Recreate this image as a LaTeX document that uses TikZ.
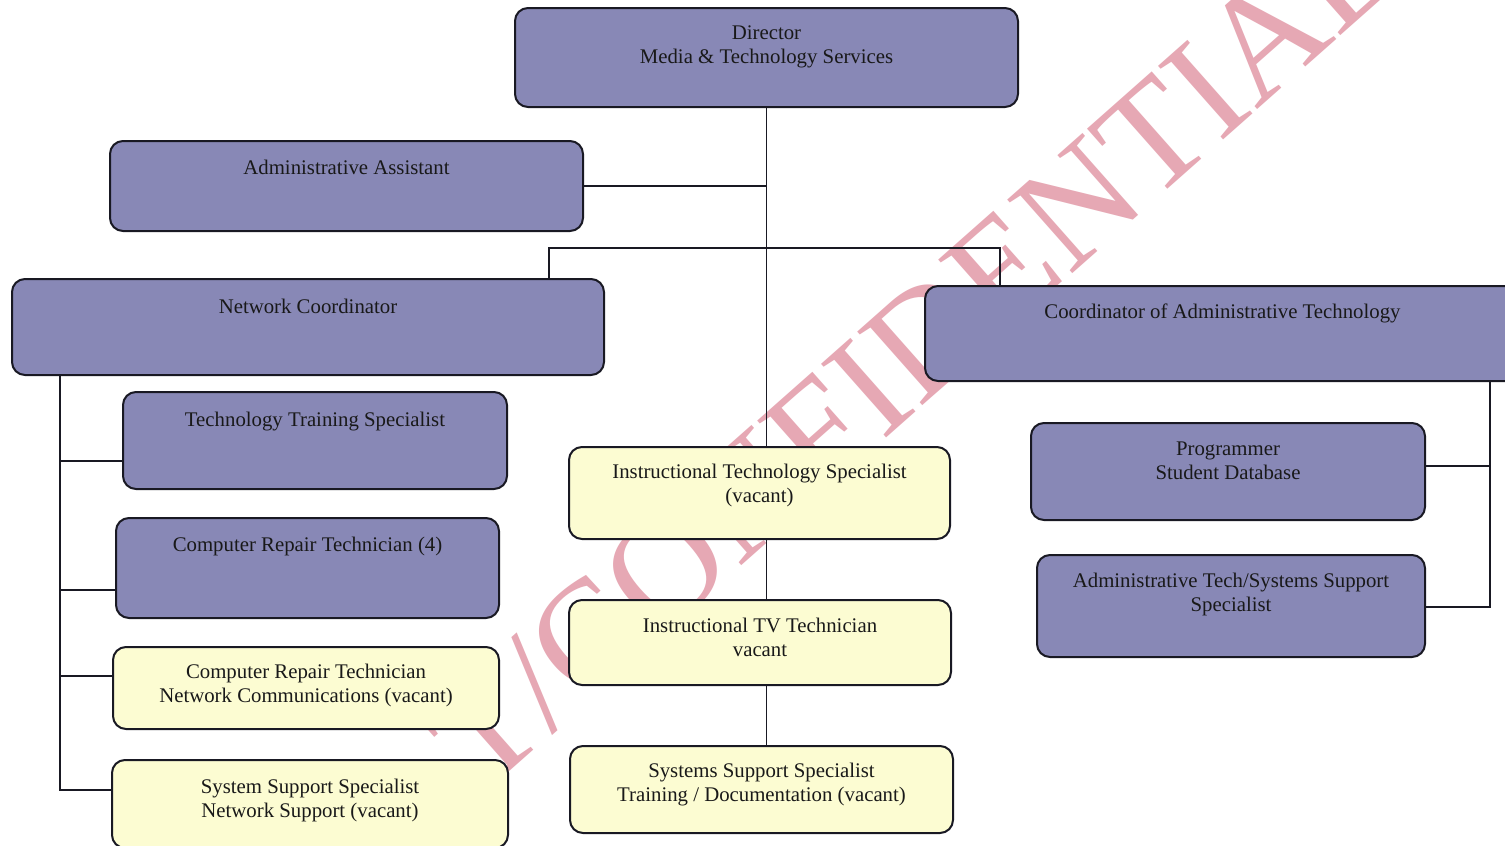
\documentclass[tikz,border=0pt]{standalone}
\usepackage{fontspec}
\setmainfont{Liberation Serif}
\usetikzlibrary{calc}
\definecolor{boxpurple}{RGB}{136,136,182}
\definecolor{boxyellow}{RGB}{252,252,210}
\definecolor{wmpink}{RGB}{230,168,180}
\definecolor{edge}{RGB}{25,25,35}
\tikzset{
  orgbox/.style={draw=edge, line width=2pt, rounded corners=13pt, inner sep=0pt},
  pbox/.style={orgbox, fill=boxpurple},
  ybox/.style={orgbox, fill=boxyellow},
  lbl/.style={anchor=north, inner sep=0pt, align=center, text=black!90, font=\fontsize{20.8}{24}\selectfont},
  conn/.style={line width=1.6pt, draw=edge},
  wmark/.style={inner sep=0pt, text=wmpink, rotate=41.5, font=\fontsize{150}{150}\selectfont}
}
\begin{document}
\begin{tikzpicture}[x=1pt,y=-1pt]
\useasboundingbox (0,0) rectangle (1505,846);
\clip (0,0) rectangle (1505,846);
\fill[white] (0,0) rectangle (1505,846);

% watermark
\node[wmark] (wm) at (912,350) {T/CONFIDENTIAL};

% boxes
\node[pbox, minimum width=503pt, minimum height=99pt] (dir) at (766.5,57.5) {};
\node[lbl] (dirT) at ($(dir.north)+(0,19)$) {Director\\Media \& Technology Services};

\node[pbox, minimum width=473pt, minimum height=90pt] (aa) at (346.5,186) {};
\node[lbl] (aaT) at ($(aa.north)+(0,20)$) {Administrative Assistant};

\node[pbox, minimum width=592pt, minimum height=96pt] (nc) at (308,327) {};
\node[lbl] (ncT) at ($(nc.north)+(0,21)$) {Network Coordinator};

\node[pbox, minimum width=595pt, minimum height=95pt] (cat) at (1222.5,333.5) {};
\node[lbl] (catT) at ($(cat.north)+(0,19)$) {Coordinator of Administrative Technology};

\node[pbox, minimum width=384pt, minimum height=97pt] (tts) at (315,440.5) {};
\node[lbl] (ttsT) at ($(tts.north)+(0,21)$) {Technology Training Specialist};

\node[pbox, minimum width=383pt, minimum height=100pt] (crt) at (307.5,568) {};
\node[lbl] (crtT) at ($(crt.north)+(0,20)$) {Computer Repair Technician (4)};

\node[ybox, minimum width=386pt, minimum height=82pt] (crtn) at (306,688) {};
\node[lbl] (crtnT) at ($(crtn.north)+(0,18)$) {Computer Repair Technician\\Network Communications (vacant)};

\node[ybox, minimum width=396pt, minimum height=88pt] (sss) at (310,804) {};
\node[lbl] (sssT) at ($(sss.north)+(0,20)$) {System Support Specialist\\Network Support (vacant)};

\node[ybox, minimum width=381pt, minimum height=92pt] (its) at (759.5,493) {};
\node[lbl] (itsT) at ($(its.north)+(0,18)$) {Instructional Technology Specialist\\(vacant)};

\node[ybox, minimum width=382pt, minimum height=85pt] (itv) at (760,642.5) {};
\node[lbl] (itvT) at ($(itv.north)+(0,19)$) {Instructional TV Technician\\vacant};

\node[ybox, minimum width=383pt, minimum height=87pt] (sst) at (761.5,789.5) {};
\node[lbl] (sstT) at ($(sst.north)+(0,18)$) {Systems Support Specialist\\Training / Documentation (vacant)};

\node[pbox, minimum width=394pt, minimum height=97pt] (prog) at (1228,471.5) {};
\node[lbl] (progT) at ($(prog.north)+(0,20)$) {Programmer\\Student Database};

\node[pbox, minimum width=388pt, minimum height=102pt] (ats) at (1231,606) {};
\node[lbl] (atsT) at ($(ats.north)+(0,19)$) {Administrative Tech/Systems Support\\Specialist};

% trunk
\draw[conn] (dir.south) -- (dir.south |- its.north);
\draw[conn] (dir.south |- its.south) -- (dir.south |- itv.north);
\draw[conn] (dir.south |- itv.south) -- (dir.south |- sst.north);
\draw[conn] (aa.east) -- (aa.east -| dir.south);

% bar to coordinators
\coordinate (barL) at (549,248);
\coordinate (barR) at (1000,248);
\draw[conn] (barL |- nc.north) -- (barL) -- (barR) -- (barR |- cat.north);

% left tree
\coordinate (lx) at (60,790);
\draw[conn] (lx |- nc.south) -- (lx) -- (sss.west |- lx);
\draw[conn] (lx |- 0,461) -- (tts.west |- 0,461);
\draw[conn] (lx |- 0,590) -- (crt.west |- 0,590);
\draw[conn] (lx |- 0,676) -- (crtn.west |- 0,676);

% right tree
\coordinate (rx) at (1490,607);
\draw[conn] (rx |- cat.south) -- (rx) -- (ats.east |- rx);
\draw[conn] (rx |- 0,466) -- (prog.east |- 0,466);
\end{tikzpicture}
\end{document}
